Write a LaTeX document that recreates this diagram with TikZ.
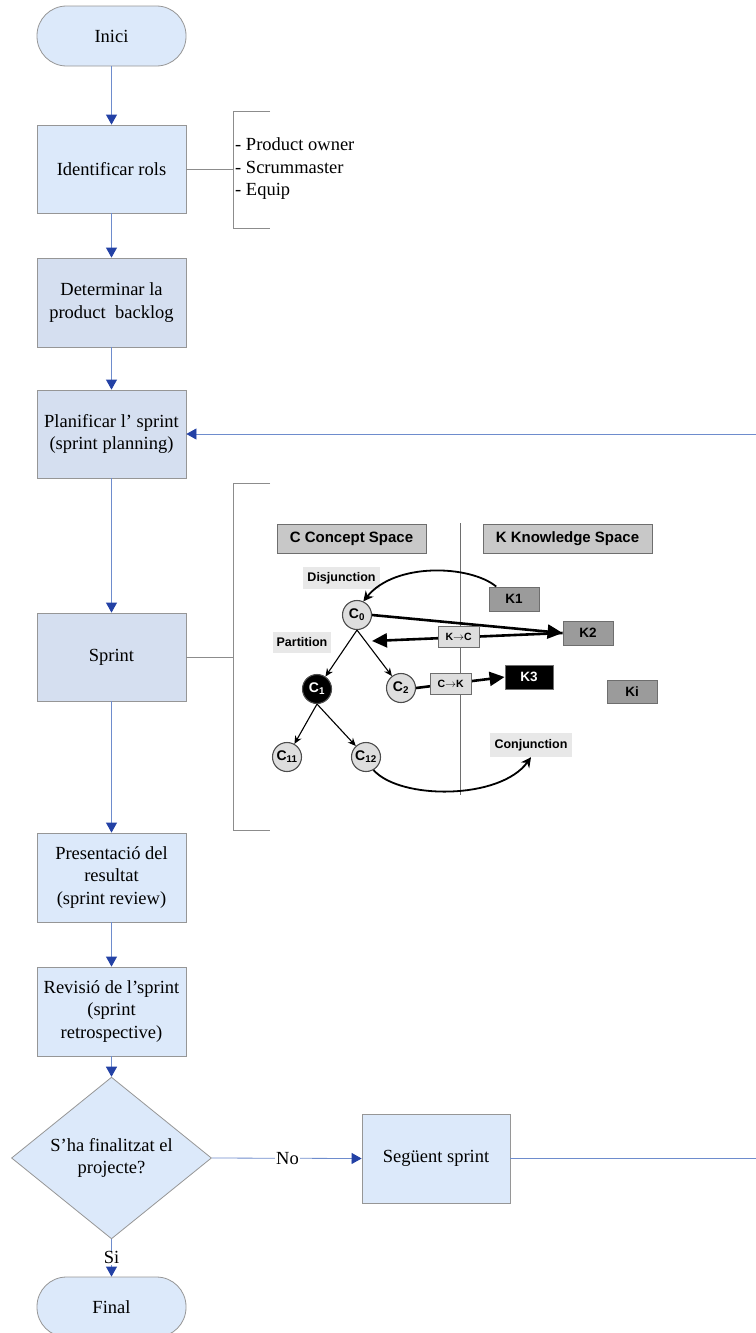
\documentclass[tikz,border=0pt]{standalone}
\usepackage{fontspec}
\setmainfont{Liberation Serif}
\newfontfamily\arialf{Liberation Sans}
\usetikzlibrary{arrows.meta,shapes.geometric}
\definecolor{fillA}{RGB}{220,233,250}
\definecolor{fillB}{RGB}{213,223,240}
\definecolor{bord}{RGB}{150,150,150}
\definecolor{flow}{RGB}{110,140,205}
\definecolor{headc}{RGB}{35,65,165}
\definecolor{brk}{RGB}{140,140,140}
\definecolor{cgray}{RGB}{200,200,200}
\definecolor{cbord}{RGB}{110,110,110}
\definecolor{kgray}{RGB}{155,155,155}
\definecolor{lblbg}{RGB}{232,232,232}
\definecolor{cfill}{RGB}{222,222,222}
\begin{document}
\begin{tikzpicture}[x=1pt,y=-1pt,
  ffont/.style={font=\fontsize{18.5}{22.5}\selectfont},
  box/.style={draw=bord,line width=0.8pt,minimum width=149pt,minimum height=88pt,inner sep=2pt,align=center,ffont},
  term/.style={box,minimum height=60pt,rounded corners=29.5pt},
  decision/.style={draw=bord,line width=0.8pt,diamond,minimum width=200pt,minimum height=120pt,inner sep=0pt,align=center,fill=fillA,ffont},
  flowline/.style={draw=flow,line width=0.8pt},
  flowarrow/.style={flowline,-{Triangle[width=11pt,length=10pt,color=headc]}},
  bracket/.style={draw=brk,line width=0.8pt},
  spacebox/.style={draw=cbord,line width=0.9pt,fill=cgray,minimum height=29pt,inner sep=0pt,font=\arialf\bfseries\fontsize{15}{17}\selectfont},
  lbl/.style={fill=lblbg,inner sep=0pt,font=\arialf\bfseries\fontsize{12.5}{14}\selectfont},
  kbox/.style={draw=cbord,line width=0.9pt,fill=kgray,minimum width=50pt,minimum height=24pt,inner sep=0pt,font=\arialf\bfseries\fontsize{13.5}{15}\selectfont},
  cnode/.style={circle,draw=cbord!70!black,line width=1.1pt,fill=cfill,minimum size=29pt,inner sep=0pt,font=\arialf\bfseries\fontsize{14}{15}\selectfont},
  smallbox/.style={draw=cbord,line width=0.9pt,fill=cfill,minimum width=41pt,minimum height=21pt,inner sep=0pt,font=\arialf\bfseries\fontsize{10.5}{12}\selectfont},
  thickarr/.style={line width=2.6pt,-{Triangle[width=14pt,length=15pt]}},
  thinarr/.style={line width=1.1pt,-{Stealth[width=7pt,length=8pt]}},
  curvearr/.style={line width=1.8pt,-{Stealth[width=10pt,length=10pt]}}
]
\useasboundingbox (0,0) rectangle (755,1333);

% ---------- flowchart nodes ----------
\node[term,fill=fillA] (inici) at (111.5,36) {Inici};
\node[box,fill=fillA] (rols) at (111.5,169) {Identificar rols};
\node[box,fill=fillB,minimum height=89pt] (det) at (111.5,302.5) {Determinar la\\product\ \ backlog};
\node[box,fill=fillB] (plan) at (111.5,434) {Planificar l’ sprint\\(sprint planning)};
\node[box,fill=fillB] (sprint) at (111.5,657) {Sprint};
\node[box,fill=fillA,minimum height=89pt] (pres) at (111.5,877.5) {Presentació del\\resultat\\(sprint review)};
\node[box,fill=fillA,minimum height=89pt] (rev) at (111.5,1011.5) {Revisió de l’sprint\\(sprint\\retrospective)};
\node[decision] (dec) at (111.5,1158) {S’ha finalitzat el\\projecte?};
\node[box,fill=fillA,minimum width=148pt,minimum height=89pt] (seg) at (436,1158.5) {Següent sprint};
\node[term,fill=fillA] (final) at (111.5,1307) {Final};

% ---------- flowchart connectors ----------
\draw[flowarrow] (inici) -- (rols);
\draw[flowarrow] (rols) -- (det);
\draw[flowarrow] (det) -- (plan);
\draw[flowarrow] (plan) -- (sprint);
\draw[flowarrow] (sprint) -- (pres);
\draw[flowarrow] (pres) -- (rev);
\draw[flowarrow] (rev) -- (dec);
\draw[flowarrow] (dec.east) -- node[fill=white,inner sep=1pt,pos=0.505,ffont]{No} (seg.west);
\draw[flowarrow] (dec.south) -- node[fill=white,inner sep=1pt,ffont]{Si} (final.north);
\draw[flowarrow] (seg.east) -- ++(246.5,0) |- (plan.east);

% ---------- roles bracket ----------
\coordinate (br1) at (233,169);
\draw[bracket] (270,111) -- (233,111) -- (233,228) -- (270,228);
\draw[bracket] (rols.east) -- (br1);
\node[anchor=west,align=left,inner sep=0pt,ffont] (roles) at (235,169) {- Product owner\\- Scrummaster\\- Equip};

% ---------- sprint bracket ----------
\coordinate (br2) at (233,657);
\draw[bracket] (270,483) -- (233,483) -- (233,830) -- (270,830);
\draw[bracket] (sprint.east) -- (br2);

% ---------- C-K diagram ----------
\draw[draw=cbord,line width=0.9pt] (460,523) -- (460,795);
\node[spacebox,minimum width=149pt] (cs) at (351.5,538.5) {C Concept Space};
\node[spacebox,minimum width=169pt] (ks) at (567.5,538.5) {K Knowledge Space};
\node[lbl,minimum width=77pt,minimum height=22pt] (dis) at (341.5,578) {Disjunction};
\node[lbl,minimum width=58pt,minimum height=21pt] (par) at (302,642.5) {Partition};
\node[lbl,minimum width=82pt,minimum height=24pt] (con) at (531,745) {Conjunction};
\node[kbox] (k1) at (514,599) {K1};
\node[kbox] (k2) at (588,633) {K2};
\node[kbox,fill=black,text=white,minimum width=48pt] (k3) at (529,677) {K3};
\node[kbox,minimum height=23pt] (ki) at (632,691.5) {Ki};
\node[cnode] (c0) at (357,615) {C\textsubscript{0}};
\node[cnode,fill=black,text=white] (c1) at (317,689) {C\textsubscript{1}};
\node[cnode] (c2) at (401,688) {C\textsubscript{2}};
\node[cnode] (c11) at (287,757) {C\textsubscript{11}};
\node[cnode] (c12) at (366,757) {C\textsubscript{12}};
\coordinate (kcend) at (372,641);

\draw[thickarr] (c0.east) -- (k2.west);
\draw[thickarr] (k2.west) -- node[smallbox,pos=0.545]{K$\to$C} (kcend);
\draw[thickarr] (c2.east) -- node[smallbox,pos=0.39]{C$\to$K} (k3.west);
\draw[thinarr] (c0.south) -- (c1);
\draw[thinarr] (c0.south) -- (c2);
\draw[thinarr] (c1.south) -- (c11);
\draw[thinarr] (c1.south) -- (c12);
\draw[curvearr] (k1.145) .. controls (470,565) and (395,562) .. (c0.65);
\draw[curvearr] (c12.-60) .. controls (400,800) and (500,800) .. (con.south);
\end{tikzpicture}
\end{document}
